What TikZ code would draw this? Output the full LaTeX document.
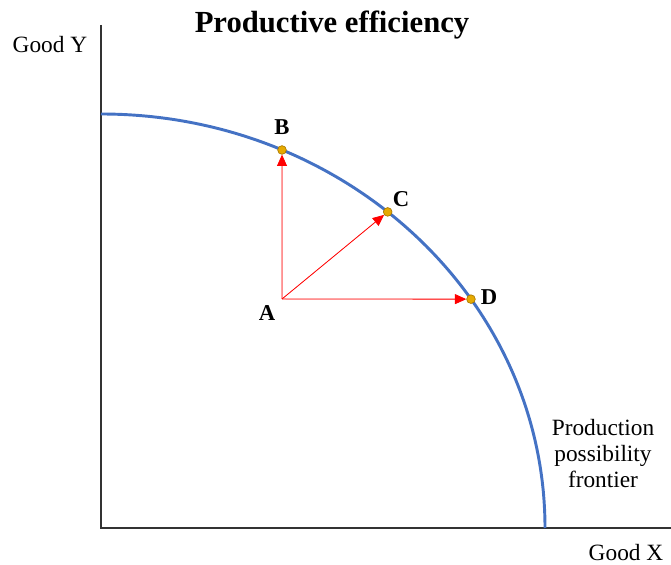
\documentclass[tikz,border=0pt]{standalone}
\usepackage{fontspec}
\setmainfont{Liberation Serif}
\usepackage{xcolor}
\usepackage{tikz}
\usetikzlibrary{arrows.meta, positioning}

\definecolor{ppfblue}{RGB}{68,114,196}
\definecolor{ptfill}{RGB}{230,170,0}
\definecolor{ptdraw}{RGB}{170,120,0}

\begin{document}
\begin{tikzpicture}[
    x=0.75pt, y=0.75pt,
    axis/.style={draw=black!80, line width=0.8pt},
    ppf/.style={draw=ppfblue, line width=2.2pt},
    pt/.style={circle, fill=ptfill, draw=ptdraw, line width=0.5pt, inner sep=0pt, minimum size=6.5pt},
    move/.style={-{Triangle[length=8.5pt, width=7.5pt]}, draw=red, fill=red, line width=0.6pt},
    lbl/.style={anchor=base, font=\fontsize{17.5}{19.5}\selectfont},
    ptlbl/.style={anchor=base, font=\fontsize{17}{19}\selectfont\bfseries}
]
\useasboundingbox (0,0) rectangle (671,564);

% axes
\coordinate (O) at (101,36);
\coordinate (ytop) at (101,539);
\coordinate (xend) at (671,36);
\draw[axis] (ytop) -- (O) -- (xend);

% frontier
\draw[ppf] (101,450) arc[start angle=90, end angle=0, x radius=444, y radius=414];

% points on the frontier
\coordinate (A) at (282,265);
\node[pt] (B) at ({101+444*cos(65.94)},{36+414*sin(65.94)}) {};
\node[pt] (C) at ({101+444*cos(49.78)},{36+414*sin(49.78)}) {};
\node[pt] (D) at ({101+444*cos(33.56)},{36+414*sin(33.56)}) {};

\draw[move] (A) -- (B);
\draw[move] (A) -- (C);
\draw[move] (A) -- (D);

% labels
\node[ptlbl] (labA) at (267,243) {A};
\node[ptlbl] (labB) at (282,429) {B};
\node[ptlbl] (labC) at (401,357) {C};
\node[ptlbl] (labD) at (489,259) {D};

\node[lbl] (goody) at (50,511) {Good Y};
\node[lbl] (goodx) at (626,3) {Good X};
\node[anchor=base, font=\fontsize{23}{25}\selectfont\bfseries] (title) at (332,531) {Productive efficiency};
\node[lbl, align=center, anchor=base] (ppflbl) at (603,76)
    {Production\\possibility\\frontier};

\end{tikzpicture}
\end{document}
